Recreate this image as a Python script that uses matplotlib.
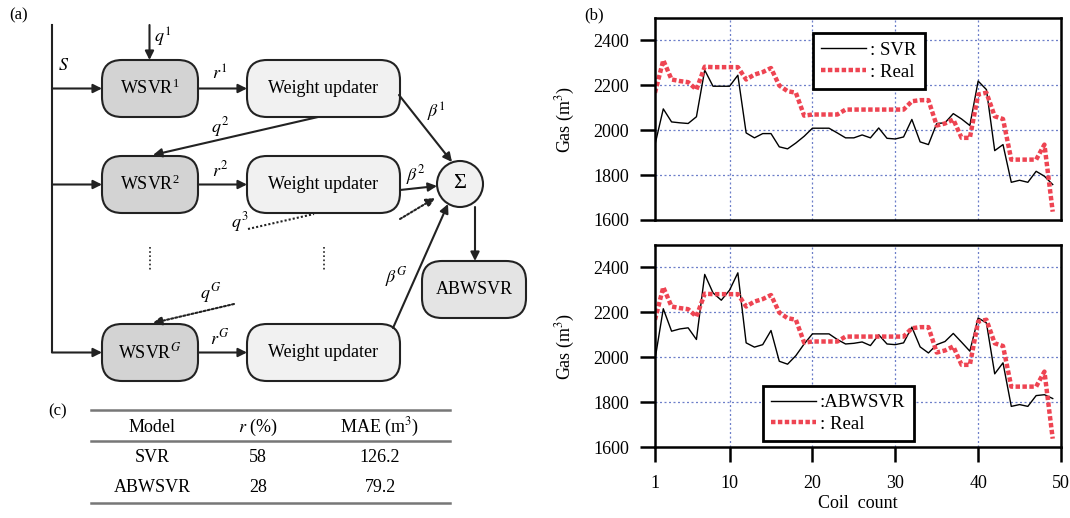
import matplotlib
matplotlib.use("Agg")
import matplotlib.pyplot as plt
from matplotlib.patches import FancyBboxPatch, Circle

plt.rcParams["font.family"] = ["Liberation Serif", "DejaVu Serif"]
plt.rcParams["mathtext.fontset"] = "stix"

# === Dados ===
coil = list(range(1, 50))
gas_real = [2167, 2312, 2226, 2219, 2214, 2181, 2283, 2281, 2281, 2281,
            2281, 2226, 2248, 2259, 2277, 2199, 2174, 2167, 2065, 2070,
            2070, 2070, 2070, 2092, 2092, 2092, 2092, 2092, 2092, 2092,
            2092, 2129, 2134, 2134, 2021, 2030, 2048, 1966, 1966, 2159,
            2167, 2062, 2050, 1869, 1869, 1869, 1869, 1936, 1637]
gas_svr = [1936, 2095, 2037, 2033, 2030, 2060, 2268, 2196, 2196, 2196,
           2245, 1988, 1966, 1985, 1985, 1926, 1917, 1943, 1973, 2009,
           2009, 2009, 1988, 1966, 1966, 1979, 1966, 2010, 1964, 1961,
           1970, 2048, 1948, 1936, 2030, 2033, 2074, 2050, 2021, 2219,
           2181, 1909, 1936, 1768, 1777, 1768, 1817, 1795, 1758]
gas_abwsvr = [1990, 2216, 2116, 2126, 2131, 2079, 2369, 2287, 2254, 2299,
              2376, 2064, 2045, 2056, 2119, 1982, 1969, 2007, 2059, 2104,
              2104, 2104, 2079, 2059, 2062, 2068, 2052, 2100, 2059, 2056,
              2064, 2134, 2046, 2019, 2056, 2070, 2106, 2067, 2027, 2175,
              2153, 1926, 1975, 1781, 1789, 1781, 1829, 1833, 1816]
yticks = [1600, 1800, 2000, 2200, 2400]
xticks = [1, 10, 20, 30, 40, 50]

table_cols = ["Model", "$r$ (%)", "MAE (m$^3$)"]
table_rows = [["SVR", "58", "126.2"], ["ABWSVR", "28", "79.2"]]

FS = 13
W, H = 1070, 518
fig = plt.figure(figsize=(W / 100, H / 100), dpi=100)

# === Diagrama (a) e tabela (c) em coordenadas de pixel ===
ax = fig.add_axes([0, 0, 1, 1])
ax.set_xlim(0, W)
ax.set_ylim(H, 0)
ax.axis("off")

def box(x0, y0, x1, y1, fc, text):
    p = FancyBboxPatch((x0, y0), x1 - x0, y1 - y0,
                       boxstyle="round,pad=0,rounding_size=20",
                       fc=fc, ec="#222222", lw=1.5)
    ax.add_patch(p)
    ax.text((x0 + x1) / 2, (y0 + y1) / 2, text, ha="center", va="center", fontsize=FS)

def arrow(p0, p1, ls="-"):
    ax.annotate("", xy=p1, xytext=p0,
                arrowprops=dict(arrowstyle="-|>", lw=1.5, color="#222222", ls=ls,
                                shrinkA=0, shrinkB=0, mutation_scale=13))

rows_y = [(60, 117), (156, 213), (324, 381)]
labels = ["1", "2", "G"]
ax.plot([52, 52], [25, 352], color="#222222", lw=1.5)
ax.text(64, 65, "$S$", fontsize=FS, ha="center", va="center")
for (y0, y1), g in zip(rows_y, labels):
    yc = (y0 + y1) / 2
    arrow((52, yc), (102, yc))
    name = "WSVR$^{\\mathregular{%s}}$" % g if g != "G" else "WSVR$^G$"
    box(102, y0, 198, y1, "#d3d3d3", name)
    arrow((198, yc), (247, yc))
    ax.text(220, yc - 14, "$r^{%s}$" % g, fontsize=FS, ha="center", va="center")
    box(247, y0, 400, y1, "#f1f1f1", "Weight updater")

arrow((149.5, 25), (149.5, 60))
ax.text(163, 37, "$q^1$", fontsize=FS, ha="center", va="center")
arrow((318, 117), (153, 155))
ax.text(220, 127, "$q^2$", fontsize=FS, ha="center", va="center")
ax.plot([248, 314], [229, 214], color="#222222", lw=1.5, ls=(0, (1, 1)))
ax.text(240, 222, "$q^3$", fontsize=FS, ha="center", va="center")
arrow((234, 304), (153, 323), ls=(0, (1, 1)))
ax.text(211, 293, "$q^G$", fontsize=FS, ha="center", va="center")
for xd in [149.5, 324]:
    ax.plot([xd, xd], [247, 272], color="#222222", lw=1.2, ls=(0, (1, 1.5)))

ax.add_patch(Circle((460, 184), 23, fc="#f1f1f1", ec="#222222", lw=1.5))
ax.text(460, 184, "Σ", fontsize=FS + 3, ha="center", va="center")
arrow((399, 95), (452, 162))
ax.text(436, 112, "$\\beta^1$", fontsize=FS, ha="center", va="center")
arrow((400, 190), (437, 186))
ax.text(416, 175, "$\\beta^2$", fontsize=FS, ha="center", va="center")
arrow((400, 219), (435, 198), ls=(0, (1, 1)))
arrow((393, 328), (448, 204))
ax.text(396, 277, "$\\beta^G$", fontsize=FS, ha="center", va="center")
arrow((475, 207), (475, 261))
box(422, 261, 526, 318, "#e4e4e4", "ABWSVR")

ax.text(19, 15, "(a)", fontsize=FS - 1, ha="center", va="center")
ax.text(594, 15, "(b)", fontsize=FS - 1, ha="center", va="center")
ax.text(58, 411, "(c)", fontsize=FS - 1, ha="center", va="center")

# tabela
col_x = [152, 258, 380]
for yl in [410, 441, 503]:
    ax.plot([91, 450], [yl, yl], color="#777777", lw=1.8)
for cx, t in zip(col_x, table_cols):
    ax.text(cx, 427, t, fontsize=FS, ha="center", va="center")
for ry, row in zip([458, 488], table_rows):
    for cx, t in zip(col_x, row):
        ax.text(cx, ry, t, fontsize=FS, ha="center", va="center")

# === Gráficos (b) ===
grid_kw = dict(color="#6d7fc9", lw=0.9, ls=(0, (1.6, 2)))
real_kw = dict(color="#ee4452", lw=3.2, ls=(0, (1, 0.55)), solid_capstyle="butt",
               dash_capstyle="butt")

def style_axis(a, show_x):
    a.set_xlim(1, 50)
    a.set_ylim(1600, 2500)
    a.set_yticks(yticks)
    a.set_xticks(xticks)
    for v in [10, 20, 30, 40]:
        a.axvline(v, **grid_kw, zorder=0)
    for v in [1800, 2000, 2200, 2400]:
        a.axhline(v, **grid_kw, zorder=0)
    for s in a.spines.values():
        s.set_linewidth(1.8)
    a.tick_params(axis="y", direction="out", length=10.5, width=1.8, pad=8, labelsize=FS)
    if show_x:
        a.tick_params(axis="x", direction="out", length=10.5, width=1.8, pad=10, labelsize=FS)
    else:
        a.tick_params(axis="x", length=0, labelbottom=False)
    a.set_ylabel("Gas (m$^3$)", fontsize=FS, labelpad=12)

def add_legend(a, anchor):
    leg = a.legend(loc="upper left", bbox_to_anchor=anchor, fontsize=FS + 0.5,
                   handlelength=2.4, handletextpad=0.2, fancybox=False, borderpad=0.45,
                   labelspacing=0.25, framealpha=1)
    leg.get_frame().set_edgecolor("black")
    leg.get_frame().set_linewidth(2)

ax1 = fig.add_axes([655 / W, 1 - 220 / H, 406 / W, 202 / H])
ax1.plot(coil, gas_svr, color="black", lw=1.0, label=": SVR")
ax1.plot(coil, gas_real, **real_kw, label=": Real")
style_axis(ax1, False)
add_legend(ax1, (0.365, 0.97))

ax2 = fig.add_axes([655 / W, 1 - 447 / H, 406 / W, 202 / H])
ax2.plot(coil, gas_abwsvr, color="black", lw=1.0, label=":ABWSVR")
ax2.plot(coil, gas_real, **real_kw, label=": Real")
style_axis(ax2, True)
add_legend(ax2, (0.242, 0.35))
ax2.set_xlabel("Coil  count", fontsize=FS, labelpad=2)

fig.savefig("out.png", dpi=100)
